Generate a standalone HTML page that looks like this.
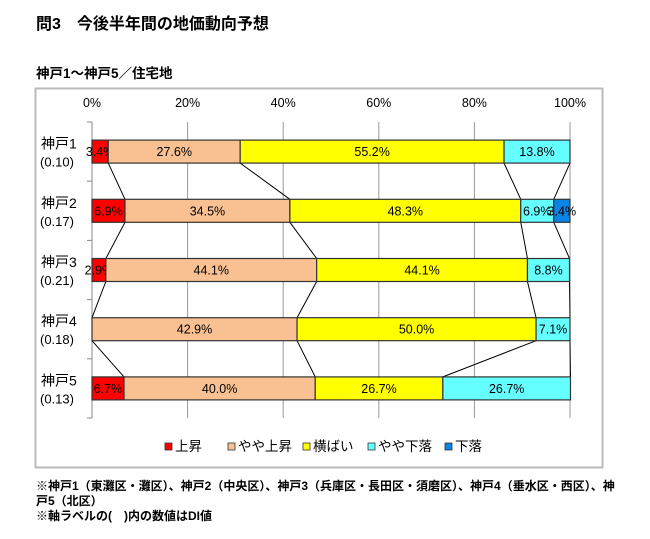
<!DOCTYPE html>
<html><head><meta charset="utf-8"><style>
body{margin:0;background:#fff;font-family:"Liberation Sans","Noto Sans CJK JP",sans-serif;}
#wrap{position:relative;width:650px;height:539px;overflow:hidden}
.t{position:absolute;color:#000;white-space:nowrap}
</style></head><body><div id="wrap">
<div class="t" style="left:36px;top:10px;font-size:16px;font-weight:bold">問3　今後半年間の地価動向予想</div>
<div class="t" style="left:36px;top:62px;font-size:13.5px;font-weight:bold">神戸1～神戸5／住宅地</div>
<svg id="chart" width="650" height="539" style="position:absolute;left:0;top:0" font-family="Liberation Sans, Noto Sans CJK JP, sans-serif"></svg>
<div class="t" style="left:36px;top:479px;font-size:12px;line-height:15px;font-weight:bold">※神戸1（東灘区・灘区）、神戸2（中央区）、神戸3（兵庫区・長田区・須磨区）、神戸4（垂水区・西区）、神<br>戸5（北区）<br>※軸ラベルの(　)内の数値はDI値</div>
</div>
<script>
const categories=["神戸1","神戸2","神戸3","神戸4","神戸5"];
const diValues=["(0.10)","(0.17)","(0.21)","(0.18)","(0.13)"];
const seriesNames=["上昇","やや上昇","横ばい","やや下落","下落"];
const sUp=[3.4,6.9,2.9,0,6.7];
const sSlightUp=[27.6,34.5,44.1,42.9,40.0];
const sFlat=[55.2,48.3,44.1,50.0,26.7];
const sSlightDown=[13.8,6.9,8.8,7.1,26.7];
const sDown=[0,3.4,0,0,0];
const xTicks=[0,20,40,60,80,100];
const colors=["#ff0000","#f9c192","#ffff00","#66ffff","#0a84e6"];
const series=[sUp,sSlightUp,sFlat,sSlightDown,sDown];
const NS="http://www.w3.org/2000/svg";
const svg=document.getElementById('chart');
const X0=92,X1=570,Y0=122,Y1=418;
const band=(Y1-Y0)/categories.length, bh=23;
const xs=v=>X0+(X1-X0)*v/100;
const yc=i=>Y0+band*(i+0.5);
function mk(t,a){const e=document.createElementNS(NS,t);for(const k in a)e.setAttribute(k,a[k]);svg.appendChild(e);return e;}
let e=mk('rect',{x:35.5,y:88.5,width:567,height:379,fill:'none',stroke:'#bbb','stroke-width':2});

xTicks.forEach(v=>{
 let g=mk('line',{x1:xs(v),x2:xs(v),y1:Y0,y2:Y1,stroke:'#999','stroke-width':1});
 
 let t=mk('text',{x:xs(v),y:107,'text-anchor':'middle','font-size':12.5});t.textContent=v+'%';
 
});
let ax=mk('line',{x1:X0,x2:X0,y1:Y0,y2:Y1,stroke:'#888'});
for(let i=0;i<=categories.length;i++){let tk=mk('line',{x1:X0-5,x2:X0,y1:Y0+band*i,y2:Y0+band*i,stroke:'#888'});}
for(let i=0;i<categories.length-1;i++){let c1=0,c2=0;for(let s=0;s<series.length-1;s++){c1+=series[s][i];c2+=series[s][i+1];
 let l=mk('line',{x1:xs(c1),y1:yc(i)+bh/2,x2:xs(c2),y2:yc(i+1)-bh/2,stroke:'#000','stroke-width':1});
 }}
categories.forEach((c,i)=>{
 let cum=0;
 series.forEach((s,k)=>{const v=s[i];if(v>0){
  let r=mk('rect',{x:xs(cum),y:yc(i)-bh/2,width:xs(cum+v)-xs(cum),height:bh,fill:colors[k],stroke:'#333','stroke-width':1.2});
  
  let t=mk('text',{x:(xs(cum)+xs(cum+v))/2,y:yc(i)+4.5,'text-anchor':'middle','font-size':12.5});t.textContent=v.toFixed(1)+'%';
  
 }cum+=v;});
 let a=mk('text',{x:41,y:yc(i)-3,'font-size':14});a.textContent=c;
 let b=mk('text',{x:40,y:yc(i)+15,'font-size':13});b.textContent=diValues[i];
});
const legX=[165,228,303,368,445];
seriesNames.forEach((n,k)=>{
 let r=mk('rect',{x:legX[k],y:443,width:7,height:7,fill:colors[k],stroke:'#333','stroke-width':0.8});
 
 let t=mk('text',{x:legX[k]+10,y:451,'font-size':13.5});t.textContent=n;
 
});
</script></body></html>
